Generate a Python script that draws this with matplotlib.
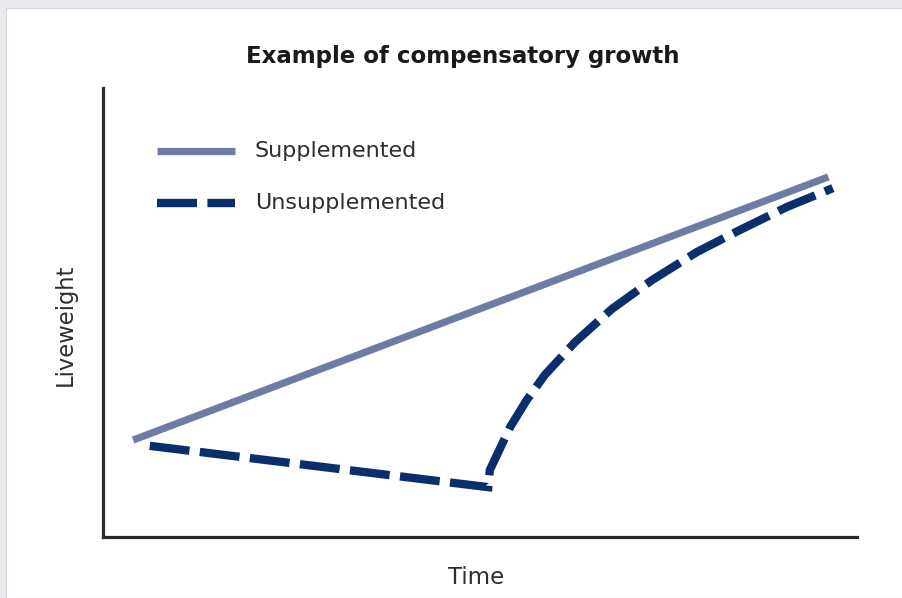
import matplotlib
matplotlib.use("Agg")
import matplotlib.pyplot as plt
from matplotlib.patches import Rectangle
from matplotlib.lines import Line2D

# Data (arbitrary units)
supp_x = [0.40, 9.62]
supp_y = [2.16, 8.02]
unsupp_x = [0.62, 5.11, 5.13, 5.40, 5.62, 5.86, 6.26, 6.75, 7.28, 7.88, 8.45, 9.07, 9.68]
unsupp_y = [2.03, 1.11, 1.49, 2.45, 3.05, 3.61, 4.34, 5.08, 5.72, 6.35, 6.84, 7.35, 7.77]
series_names = ["Supplemented", "Unsupplemented"]
title = "Example of compensatory growth"
xlabel = "Time"
ylabel = "Liveweight"

supp_color = "#6f7ba7"
unsupp_color = "#0b2e6c"

W, H = 903, 598
fig = plt.figure(figsize=(W / 100, H / 100), dpi=100)
fig.patch.set_facecolor("#e9ebee")
bg = Rectangle((6 / W, 0), 1 - 6 / W, (H - 8) / H, transform=fig.transFigure,
               facecolor="white", edgecolor="#d3d6da", linewidth=0.8, zorder=-10)
fig.patches.append(bg)

ax = fig.add_axes([103 / W, (H - 537) / H, (857 - 103) / W, (537 - 88) / H])
ax.set_zorder(5)
ax.set_facecolor("none")
ax.set_xlim(0, 10)
ax.set_ylim(0, 10)

ax.plot(supp_x, supp_y, color=supp_color, lw=5.2, solid_capstyle="butt")
ax.plot(unsupp_x, unsupp_y, color=unsupp_color, lw=6.0, dashes=(4.8, 1.25),
        dash_capstyle="butt", solid_joinstyle="miter", dash_joinstyle="miter")

for s in ["top", "right"]:
    ax.spines[s].set_visible(False)
for s in ["left", "bottom"]:
    ax.spines[s].set_color("#2b2b2b")
    ax.spines[s].set_linewidth(2.3)
ax.set_xticks([])
ax.set_yticks([])

# legend drawn manually in axes fraction
def fx(px):
    return (px - 103) / (857 - 103)
def fy(py):
    return (537 - py) / (537 - 88)

ax.add_line(Line2D([fx(157), fx(235)], [fy(151), fy(151)], transform=ax.transAxes,
                   color=supp_color, lw=5.2, solid_capstyle="butt"))
ax.add_line(Line2D([fx(157), fx(235)], [fy(203), fy(203)], transform=ax.transAxes,
                   color=unsupp_color, lw=6.0, dashes=(4.8, 1.25), dash_capstyle="butt"))
ax.text(fx(255), fy(151), series_names[0], transform=ax.transAxes, fontsize=16,
        va="center", ha="left", color="#2e2e2e")
ax.text(fx(255), fy(203), series_names[1], transform=ax.transAxes, fontsize=16,
        va="center", ha="left", color="#2e2e2e")

fig.text(463 / W, 1 - 57 / H, title, ha="center", va="center", fontsize=16.5,
         fontweight="bold", color="#1a1a1a")
fig.text(476 / W, 1 - 577 / H, xlabel, ha="center", va="center", fontsize=16.5, color="#2e2e2e")
fig.text(65 / W, 1 - 325 / H, ylabel, ha="center", va="center", fontsize=16.3,
         rotation=90, color="#2e2e2e")

fig.savefig("out.png", dpi=100)
